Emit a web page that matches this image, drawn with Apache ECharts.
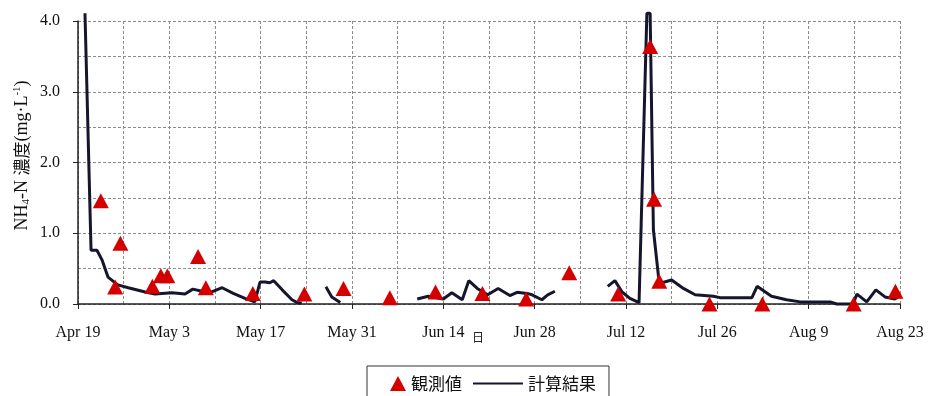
<!DOCTYPE html>
<html>
<head>
<meta charset="utf-8">
<script src="https://cdn.jsdelivr.net/npm/echarts@6/dist/echarts.min.js"></script>
<style>html,body{margin:0;padding:0;background:#fff}#c{width:928px;height:396px}</style>
</head>
<body>
<div id="c"></div>
<script>
// x = days since Apr 19
var dateLabels = ["Apr 19","May 3","May 17","May 31","Jun 14","Jun 28","Jul 12","Jul 26","Aug 9","Aug 23"];
var yTickLabels = ["0.0","1.0","2.0","3.0","4.0"];

// 観測値 (observed)
var obsDay = [3.5, 5.7, 6.5, 11.4, 12.7, 13.7, 18.4, 19.6, 26.8, 34.7, 40.7, 47.8, 54.8, 62.0, 68.7, 75.3, 82.8, 87.7, 88.3, 89.1, 96.8, 104.9, 118.9, 125.3];
var obsVal = [1.46, 0.24, 0.86, 0.25, 0.40, 0.40, 0.67, 0.23, 0.15, 0.14, 0.22, 0.09, 0.17, 0.15, 0.07, 0.44, 0.14, 3.64, 1.48, 0.32, 0.0, 0.0, 0.0, 0.18];

// 計算結果 (calculated), null = gap
var calcDay = [1.07, 2.0, 2.9, 3.7, 4.6, 6.1, 7.7, 10.3, 11.8, 14.4, 16.4, 17.6, 19.0, 20.5, 22.1, 23.8, 25.6, 27.1, 27.9, 28.7, 29.4, 30.0, 31.3, 32.8, 33.6, 34.3, 35.0,
  38.0, 38.9, 40.2, 41.0,
  52.0, 53.7, 56.0, 57.3, 58.9, 59.9, 61.2, 62.8, 64.4, 66.2, 67.3, 68.8, 69.6, 71.1, 72.0, 73.1, 74.0,
  81.2, 82.3, 83.4, 84.6, 86.0, 87.2, 87.7, 88.2, 89.1, 91.0, 92.8, 94.6, 97.4, 98.4, 103.3, 104.1, 106.3, 108.6, 110.7, 115.3, 116.3, 118.8, 119.4, 120.9, 122.3, 123.7, 125.2, 125.7];
var calcVal = [4.11, 0.76, 0.76, 0.62, 0.38, 0.27, 0.23, 0.17, 0.14, 0.16, 0.14, 0.21, 0.18, 0.17, 0.23, 0.15, 0.08, 0.03, 0.31, 0.31, 0.30, 0.33, 0.20, 0.06, 0.02, 0.01, null,
  0.245, 0.10, 0.02, null,
  0.07, 0.11, 0.07, 0.16, 0.06, 0.33, 0.22, 0.13, 0.22, 0.12, 0.165, 0.15, 0.13, 0.06, 0.13, 0.18, null,
  0.25, 0.33, 0.17, 0.08, 0.02, 4.11, 4.11, 1.05, 0.29, 0.34, 0.22, 0.13, 0.11, 0.09, 0.09, 0.25, 0.11, 0.06, 0.03, 0.03, 0.0, 0.0, 0.14, 0.03, 0.20, 0.10, 0.07, 0.10];

function zip(a, b) { return a.map(function (d, i) { return [d, b[i]]; }); }

var serif = '"Liberation Serif", "DejaVu Serif", serif';
var gridDash = { color: '#8c8c8c', type: [3, 2], width: 1 };

var chart = echarts.init(document.getElementById('c'));
chart.setOption({
  animation: false,
  backgroundColor: '#fff',
  grid: { left: 78, right: 28, top: 21, bottom: 92, containLabel: false, outerBoundsMode: 'none' },
  xAxis: {
    type: 'value', min: 0, max: 126, interval: 14,
    name: '日', nameLocation: 'middle', nameGap: 27, nameMoveOverlap: false,
    nameTextStyle: { fontFamily: '"Noto Sans CJK JP"', fontSize: 12, color: '#222', padding: [0, 22, 0, 0] },
    axisLine: { show: true, onZero: false, lineStyle: { color: '#222', width: 1.5 } },
    axisTick: { show: true, inside: false, length: 5, lineStyle: { color: '#222' } },
    axisLabel: { margin: 21, fontFamily: serif, fontSize: 16, color: '#111',
      formatter: function (v) { return dateLabels[Math.round(v / 14)]; } },
    splitLine: { show: true, lineStyle: gridDash },
    minorTick: { show: false, splitNumber: 2 },
    minorSplitLine: { show: true, lineStyle: gridDash }
  },
  yAxis: {
    type: 'value', min: 0, max: 4, interval: 1,
    name: '{a|NH}{s|4}{a|-N }{c|濃度}{a|(mg·L}{p|-1}{a|)}',
    nameLocation: 'middle', nameGap: 46, nameRotate: 90, nameMoveOverlap: false,
    nameTextStyle: {
      padding: [0, 0, 0, 14],
      rich: {
        a: { fontFamily: serif, fontSize: 18, color: '#111', lineHeight: 20 },
        c: { fontFamily: '"Noto Sans CJK JP"', fontSize: 17, color: '#111', lineHeight: 20 },
        s: { fontFamily: serif, fontSize: 11, color: '#111', lineHeight: 12, verticalAlign: 'bottom' },
        p: { fontFamily: serif, fontSize: 11, color: '#111', lineHeight: 12, verticalAlign: 'top' }
      }
    },
    axisLine: { show: true, lineStyle: { color: '#222', width: 1.5 } },
    axisTick: { show: true, inside: false, length: 5, lineStyle: { color: '#222' } },
    axisLabel: { margin: 18, fontFamily: serif, fontSize: 16, color: '#111',
      formatter: function (v) { return yTickLabels[Math.round(v)]; } },
    splitLine: { show: true, lineStyle: gridDash },
    minorTick: { show: false, splitNumber: 2 },
    minorSplitLine: { show: true, lineStyle: gridDash }
  },
  legend: [
    {
      data: [{ name: '観測値', icon: 'triangle' }],
      left: 367, top: 366, orient: 'horizontal',
      padding: [9, 147, 22, 23],
      borderColor: '#333', borderWidth: 1, borderRadius: 0,
      itemWidth: 16, itemHeight: 15,
      textStyle: { fontFamily: '"Noto Sans CJK JP"', fontSize: 17, color: '#111' }
    },
    {
      data: [{ name: '計算結果', itemStyle: { opacity: 0 } }],
      left: 472, top: 375, padding: 0,
      itemWidth: 50, itemHeight: 15,
      textStyle: { fontFamily: '"Noto Sans CJK JP"', fontSize: 17, color: '#111' }
    }
  ],
  series: [
    {
      name: '計算結果', type: 'line', data: zip(calcDay, calcVal),
      symbol: 'none', showSymbol: false, connectNulls: false, clip: false,
      lineStyle: { color: '#15152e', width: 3 }, itemStyle: { color: '#15152e' }, z: 2
    },
    {
      name: '観測値', type: 'scatter', data: zip(obsDay, obsVal),
      symbol: 'triangle', symbolSize: [16, 15], clip: false,
      itemStyle: { color: '#d40000', opacity: 1 }, z: 3
    }
  ]
});
</script>
</body>
</html>
